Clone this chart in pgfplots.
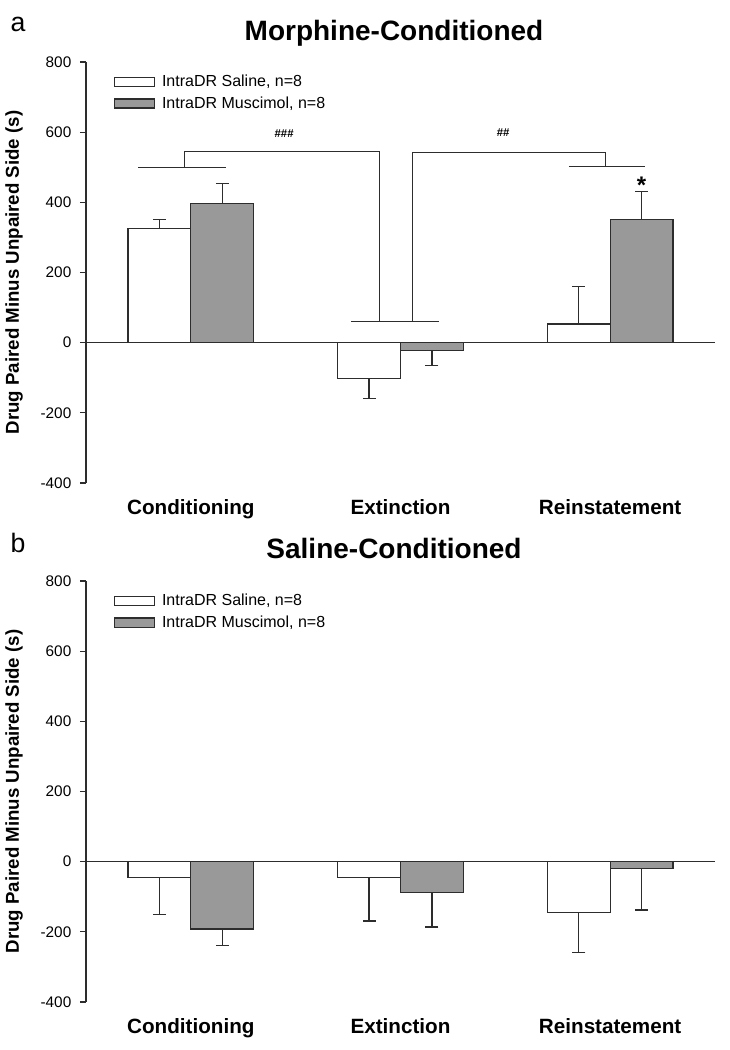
\documentclass[border=0pt]{standalone}
\usepackage{pgfplots}
\pgfplotsset{compat=1.18}
\usepackage{fontspec}
\setmainfont{Liberation Sans}
\definecolor{barfill}{RGB}{153,153,153}
\definecolor{ink}{RGB}{45,45,45}
\pgfplotsset{
  panel/.style={
    scale only axis, width=471.75pt, height=315.75pt,
    xmin=-0.5, xmax=2.5, ymin=-400, ymax=800,
    axis y line*=left, axis x line*=bottom,
    axis line style={-},
    x axis line style={draw=none},
    y axis line style={ink, line width=0.9pt},
    xtick={0,1,2},
    xticklabels={Conditioning,Extinction,Reinstatement},
    xtick style={draw=none},
    xticklabel style={font=\bfseries\fontsize{15.5}{18}\selectfont, yshift=-4pt},
    ytick={-400,-200,0,200,400,600,800},
    ytick style={ink, line width=0.9pt},
    tick align=outside, major tick length=4.5pt,
    /pgf/number format/assume math mode=true,
    yticklabel style={font=\fontsize{11.5}{13}\selectfont, xshift=-3pt},
    ylabel={Drug Paired Minus Unpaired Side (s)},
    ylabel style={font=\bfseries\fontsize{14}{16}\selectfont, at={(axis description cs:-0.1145,0.5)}, anchor=center},
    legend style={at={(rel axis cs:0.038,0.982)}, anchor=north west, draw=none, fill=none,
      font=\fontsize{12}{14}\selectfont, row sep=2pt},
    legend cell align=left,
    legend image code/.code={\draw[#1] (0pt,-3.4pt) rectangle (30pt,3.4pt); \path (33pt,0pt);},
    clip=false,
  },
  errs/.style={
    /pgfplots/error bars/y explicit,
    /pgfplots/error bars/error bar style={ink, line width=0.9pt},
    /pgfplots/error bars/error mark options={ink, line width=0.9pt, mark size=4.9pt, rotate=90}},
  up/.style={/pgfplots/error bars/y dir=plus},
  down/.style={/pgfplots/error bars/y dir=minus},
  salbar/.style={ybar, bar width=0.3, bar shift=0, fill=white, draw=ink, line width=0.9pt, errs},
  musbar/.style={ybar, bar width=0.3, bar shift=0, fill=barfill, draw=ink, line width=0.9pt, errs},
  brk/.style={ink, line width=0.9pt, forget plot, mark=none, sharp plot},
}
\begin{document}
\begin{tikzpicture}
\useasboundingbox (0pt,0pt) rectangle (547.5pt,787.5pt);
% ---------------- panel a ----------------
\begin{axis}[panel, at={(64.5pt,425.25pt)}, anchor=south west]
\addplot[brk] coordinates {(-0.5,0) (2.5,0)};
% Saline (positive bars: error up; negative bars: error down)
\addplot[salbar, up] coordinates {(-0.15,325) +- (0,25) (1.85,53) +- (0,108)};
\addlegendentry{IntraDR Saline, n=8}
\addplot[salbar, down, forget plot] coordinates {(0.85,-103) +- (0,57)};
% Muscimol
\addplot[musbar, up] coordinates {(0.15,396) +- (0,57) (2.15,351) +- (0,79)};
\addlegendentry{IntraDR Muscimol, n=8}
\addplot[musbar, down, forget plot] coordinates {(1.15,-23) +- (0,42)};
% brackets
\addplot[brk] coordinates {(-0.25,500) (0.17,500)};
\addplot[brk] coordinates {(-0.03,500) (-0.03,545) (0.9,545) (0.9,60)};
\addplot[brk] coordinates {(0.765,60) (1.183,60)};
\addplot[brk] coordinates {(1.058,60) (1.058,543) (1.978,543) (1.978,502)};
\addplot[brk] coordinates {(1.803,502) (2.167,502)};
\node[font=\bfseries\fontsize{8.5}{10}\selectfont] at (axis cs:0.445,595) {\#\#\#};
\node[font=\bfseries\fontsize{8.5}{10}\selectfont] at (axis cs:1.49,598) {\#\#};
\node[font=\bfseries\fontsize{18}{18}\selectfont, anchor=base] at (axis cs:2.15,424) {*};
\end{axis}
% ---------------- panel b ----------------
\begin{axis}[panel, at={(64.5pt,36pt)}, anchor=south west]
\addplot[brk] coordinates {(-0.5,0) (2.5,0)};
\addplot[salbar, down] coordinates {(-0.15,-45) +- (0,105) (0.85,-45) +- (0,124) (1.85,-145) +- (0,114)};
\addlegendentry{IntraDR Saline, n=8}
\addplot[musbar, down] coordinates {(0.15,-192) +- (0,46) (1.15,-88) +- (0,98) (2.15,-19) +- (0,119)};
\addlegendentry{IntraDR Muscimol, n=8}
\end{axis}
% titles and panel letters
\node[font=\bfseries\fontsize{21}{24}\selectfont, anchor=base] at (295.5pt,756.75pt) {Morphine-Conditioned};
\node[font=\bfseries\fontsize{21}{24}\selectfont, anchor=base] at (295.5pt,368.25pt) {Saline-Conditioned};
\node[font=\fontsize{20}{22}\selectfont, anchor=base] at (13.5pt,763.5pt) {a};
\node[font=\fontsize{20}{22}\selectfont, anchor=base] at (13.5pt,373pt) {b};
\end{tikzpicture}
\end{document}
